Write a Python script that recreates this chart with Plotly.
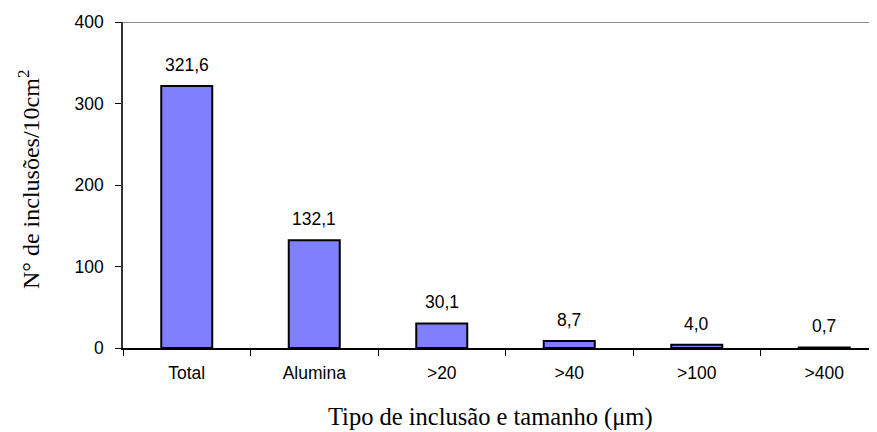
import plotly.graph_objects as go

categories = ["Total", "Alumina", ">20", ">40", ">100", ">400"]
values = [321.6, 132.1, 30.1, 8.7, 4.0, 0.7]
labels = [f"{v:.1f}".replace(".", ",") for v in values]
y_ticks = [0, 100, 200, 300, 400]

SANS = "Liberation Sans, Arial"
SERIF = "Liberation Serif, Times New Roman"

fig = go.Figure()
fig.add_trace(go.Bar(
    x=categories, y=values,
    marker=dict(color="#8080FF", line=dict(color="black", width=2)),
    width=0.4,
))

annotations = []
for c, v, t in zip(categories, values, labels):
    annotations.append(dict(
        x=c, y=v, xref="x", yref="y", text=t, showarrow=False,
        xanchor="center", yanchor="bottom", yshift=9,
        font=dict(family=SANS, size=17.5, color="black"),
    ))

# page has an 8px body margin: compensate in the margins
L, T, PW, PH = 115, 14, 765, 326

annotations.append(dict(
    text="Tipo de inclusão e tamanho (μm)", xref="paper", yref="paper",
    x=(482 - L) / PW, y=-69 / PH, xanchor="center", yanchor="middle", showarrow=False,
    font=dict(family=SERIF, size=24.5, color="black"),
))
annotations.append(dict(
    text="N° de inclusões/10cm<sup>2</sup>", xref="paper", yref="paper",
    x=0, y=0.5, xanchor="center", yanchor="middle", xshift=-94, yshift=5,
    textangle=-90, showarrow=False,
    font=dict(family=SERIF, size=24, color="black"),
))

fig.add_shape(type="line", xref="paper", yref="y", x0=0, x1=1, y0=400, y1=400,
              line=dict(color="#8c8c8c", width=2))

fig.update_layout(
    width=L + PW, height=432,
    margin=dict(l=L, r=0, t=T, b=432 - T - PH, autoexpand=False),
    paper_bgcolor="white", plot_bgcolor="white",
    showlegend=False,
    font=dict(family=SANS, size=17.5, color="black"),
    xaxis=dict(
        range=[-0.5, 5.5], showgrid=False, showline=True, linecolor="black", linewidth=1.5,
        ticks="outside", tickson="boundaries", ticklen=6, tickcolor="black",
        tickfont=dict(size=17.5), ticklabelstandoff=8, fixedrange=True,
    ),
    yaxis=dict(
        range=[0, 400], tickvals=y_ticks, showgrid=False, showline=True,
        linecolor="#333333", linewidth=1.5, ticks="outside", ticklen=6, tickcolor="black",
        tickfont=dict(size=17.5), ticklabelstandoff=8, zeroline=False, fixedrange=True,
    ),
    annotations=annotations,
)

fig.write_html("out.html")
